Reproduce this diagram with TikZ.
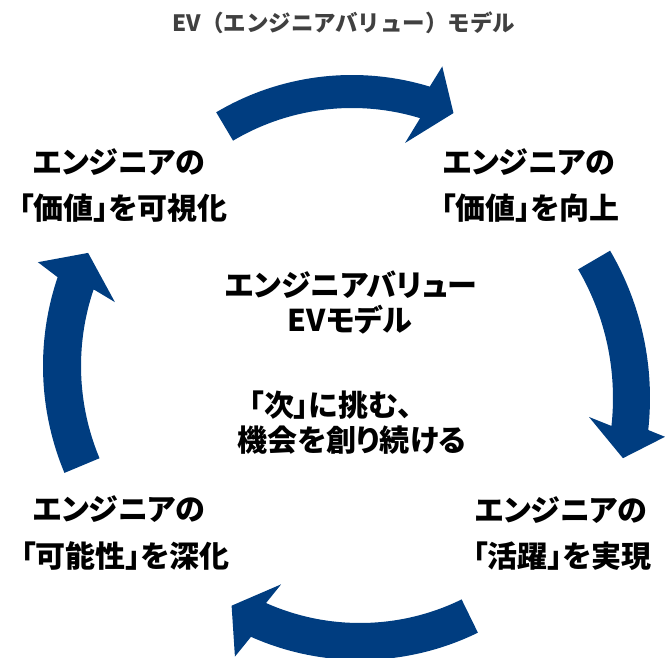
\documentclass[tikz,border=0pt]{standalone}
\usepackage{fontspec}
\newfontfamily\jp{Noto Sans CJK JP}[RawFeature=+palt]
\newfontfamily\jpfull{Noto Sans CJK JP}
\definecolor{evblue}{HTML}{003D80}
\definecolor{titlegray}{HTML}{404040}
\tikzset{
  lbl/.style={font=\jp\bfseries\fontsize{30}{36}\selectfont, text=black, inner sep=0pt},
  ttl/.style={font=\jpfull\bfseries\fontsize{22.5}{26}\selectfont, text=titlegray, inner sep=0pt},
  cyc/.style={fill=evblue, draw=none}
}
\begin{document}
\begin{tikzpicture}[x=1pt,y=1pt]
\useasboundingbox (0,0) rectangle (665,657);
\begin{scope}
\clip (0,0) rectangle (665,657);
% top arrow
\begin{scope}[shift={(352,316)}]
\fill[cyc] (120.7:266) arc[start angle=120.7, end angle=73, radius=266]
  -- (71.8:289) -- (66:249.5) -- (75:205) -- (73:233)
  arc[start angle=73, end angle=120.7, radius=233] -- cycle;
\end{scope}
% right arrow
\begin{scope}[shift={(358,259)}]
\fill[cyc] (30.3:292) arc[start angle=30.3, end angle=-6.3, radius=292]
  -- (-7.2:309.5) -- (-12.8:271.7) -- (-4.7:231.8) -- (-6.3:255)
  arc[start angle=-6.3, end angle=30.3, radius=255] -- cycle;
\end{scope}
% bottom arrow
\begin{scope}[shift={(360,265)}]
\fill[cyc] (-63.9:268) arc[start angle=-63.9, end angle=-114, radius=268]
  -- (-115.3:292.7) -- (-121:249.3) -- (-112.3:207.9) -- (-114:231)
  arc[start angle=-114, end angle=-63.9, radius=231] -- cycle;
\end{scope}
% left arrow
\begin{scope}[shift={(320,291)}]
\fill[cyc] (202.7:277) arc[start angle=202.7, end angle=161.3, radius=277]
  -- (159.8:300.6) -- (154:258) -- (162.7:214.8) -- (161.3:239)
  arc[start angle=161.3, end angle=202.7, radius=239] -- cycle;
\end{scope}
\end{scope}
\node[ttl] (title) at (344,634) {EV（エンジニアバリュー）モデル};
\node[lbl] (tl1) at (119,495) {エンジニアの};
\node[lbl] (tl2) at (123,449) {「価値」を可視化};
\node[lbl] (tr1) at (529,495) {エンジニアの};
\node[lbl] (tr2) at (530,449) {「価値」を向上};
\node[lbl] (c1) at (351,372) {エンジニアバリュー};
\node[lbl] (c2) at (350,337) {EVモデル};
\node[lbl] (c3) at (331,252) {「次」に挑む、};
\node[lbl] (c4) at (352,217) {機会を創り続ける};
\node[lbl] (bl1) at (119,148) {エンジニアの};
\node[lbl] (bl2) at (125,101) {「可能性」を深化};
\node[lbl] (br1) at (561,147) {エンジニアの};
\node[lbl] (br2) at (562,101) {「活躍」を実現};
\end{tikzpicture}
\end{document}
